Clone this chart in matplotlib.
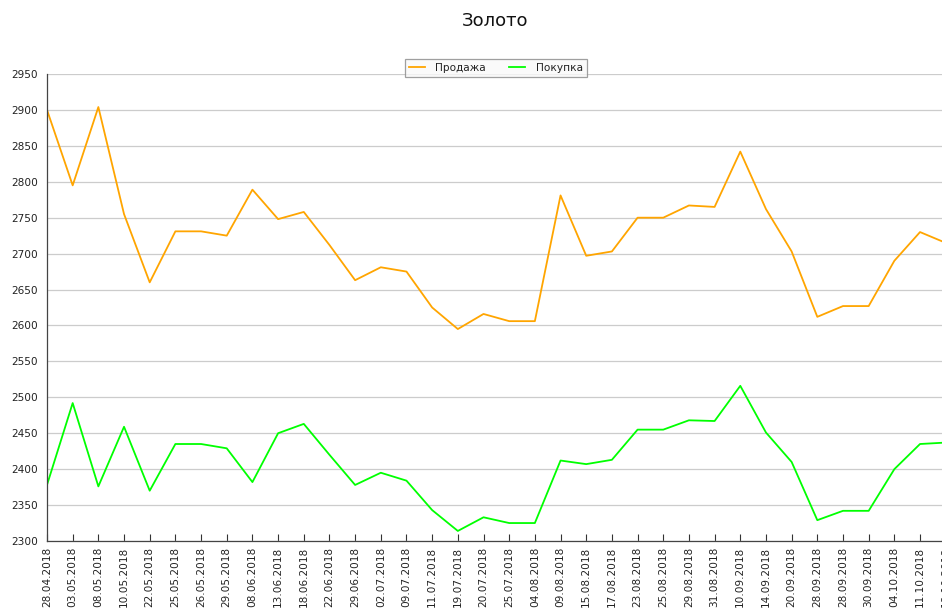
import matplotlib
matplotlib.use("Agg")
import matplotlib.pyplot as plt

dates = ["28.04.2018", "03.05.2018", "08.05.2018", "10.05.2018", "22.05.2018",
         "25.05.2018", "26.05.2018", "29.05.2018", "08.06.2018", "13.06.2018",
         "18.06.2018", "22.06.2018", "29.06.2018", "02.07.2018", "09.07.2018",
         "11.07.2018", "19.07.2018", "20.07.2018", "25.07.2018", "04.08.2018",
         "09.08.2018", "15.08.2018", "17.08.2018", "23.08.2018", "25.08.2018",
         "29.08.2018", "31.08.2018", "10.09.2018", "14.09.2018", "20.09.2018",
         "28.09.2018", "28.09.2018", "30.09.2018", "04.10.2018", "11.10.2018",
         "18.10.2018"]

sell = [2900, 2795, 2904, 2755, 2660, 2731, 2731, 2725, 2789, 2748,
        2758, 2712, 2663, 2681, 2675, 2625, 2595, 2616, 2606, 2606,
        2781, 2697, 2703, 2750, 2750, 2767, 2765, 2842, 2762, 2703,
        2612, 2627, 2627, 2690, 2730, 2715]

buy = [2378, 2492, 2376, 2459, 2370, 2435, 2435, 2429, 2382, 2450,
       2463, 2420, 2378, 2395, 2384, 2343, 2314, 2333, 2325, 2325,
       2412, 2407, 2413, 2455, 2455, 2468, 2467, 2516, 2451, 2410,
       2329, 2342, 2342, 2400, 2435, 2437]

yticks = list(range(2300, 2951, 50))

W, H = 942, 612
fig = plt.figure(figsize=(W / 100, H / 100), dpi=100)
left, right, bottom, top = 47, 945.7, 541, 74
ax = fig.add_axes([left / W, 1 - bottom / H, (right - left) / W, (bottom - top) / H])

x = list(range(len(dates)))
ax.plot(x, sell, color="#FFA500", lw=1.3, label="Продажа")
ax.plot(x, buy, color="#00FF00", lw=1.3, label="Покупка")

ax.set_xlim(0, len(dates) - 1)
ax.set_ylim(2300, 2950)
ax.set_yticks(yticks)
ax.set_xticks(x)
ax.set_xticklabels(dates, rotation=90, fontsize=7.6, color="#222222")
ax.tick_params(axis="y", length=0, labelsize=7.6, labelcolor="#222222", pad=6.5)
ax.tick_params(axis="x", direction="in", length=5, width=0.8, color="#333333", pad=4)
ax.grid(axis="y", color="#cccccc", lw=0.9)
ax.set_axisbelow(True)
for s in ("top", "right"):
    ax.spines[s].set_visible(False)
for s in ("left", "bottom"):
    ax.spines[s].set_color("#444444")
    ax.spines[s].set_linewidth(0.9)

fig.text(495 / W, 1 - 21 / H, "Золото", ha="center", va="center", fontsize=13, color="#111111")

leg = ax.legend(loc="center", bbox_to_anchor=(496 / W, 1 - 68 / H), bbox_transform=fig.transFigure,
                ncol=2, fontsize=7.6, frameon=True, fancybox=False, shadow=False,
                handlelength=1.5, columnspacing=2.2, borderpad=0.4, handletextpad=1.0)
leg.get_frame().set_edgecolor("#888888")
leg.get_frame().set_facecolor("#f9f9f9")
leg.get_frame().set_linewidth(0.9)
for t in leg.get_texts():
    t.set_color("#222222")

fig.savefig("out.png", dpi=100)
